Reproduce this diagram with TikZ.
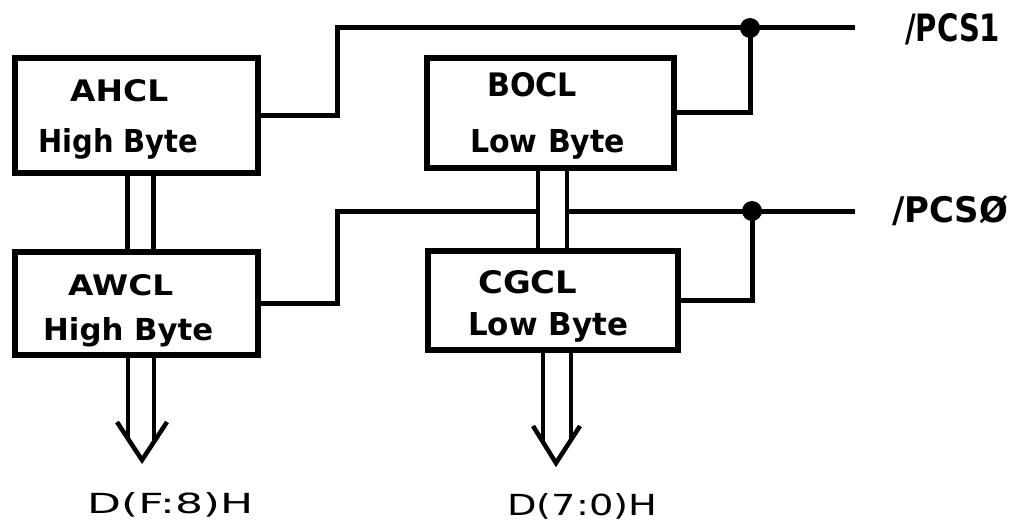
\documentclass[tikz,border=0pt]{standalone}
\usepackage{fontspec}
\usepackage{graphicx}
\setmainfont{DejaVu Sans}
\usetikzlibrary{calc}
\newcommand\fitt[3]{\resizebox{#1pt}{#2pt}{#3}}
\begin{document}
\begin{tikzpicture}[x=1pt,y=-1pt,
  box/.style={draw,line width=6pt,inner sep=0pt},
  wire/.style={line width=5pt,line join=miter},
  bus/.style={line width=4.5pt},
  lbl/.style={inner sep=0pt,font=\bfseries},
  dlbl/.style={inner sep=0pt},
  junction/.style={circle,fill,inner sep=0pt,minimum size=20pt}]
\useasboundingbox[fill=white] (0,0) rectangle (1016,524);

% boxes
\node[box,minimum width=243pt,minimum height=115pt] (ahcl) at (136.5,115.5) {};
\node[box,minimum width=243pt,minimum height=103pt] (awcl) at (136.5,303.5) {};
\node[box,minimum width=247pt,minimum height=110pt] (bocl) at (550.5,113) {};
\node[box,minimum width=250pt,minimum height=99pt]  (cgcl) at (553,300.5) {};

% box texts
\node[lbl,anchor=base west] (t1) at (70,102)  {\fitt{98}{22}{AHCL}};
\node[lbl,anchor=base west] (t2) at (38,152)  {\fitt{160}{24}{High Byte}};
\node[lbl,anchor=base west] (t3) at (68,295)  {\fitt{105}{21}{AWCL}};
\node[lbl,anchor=base west] (t4) at (43,340)  {\fitt{170}{23}{High Byte}};
\node[lbl,anchor=base west] (t5) at (487,97)  {\fitt{90}{24}{BOCL}};
\node[lbl,anchor=base west] (t6) at (470,152) {\fitt{155}{23}{Low Byte}};
\node[lbl,anchor=base west] (t7) at (478,293) {\fitt{99}{23}{CGCL}};
\node[lbl,anchor=base west] (t8) at (468,335) {\fitt{160}{23}{Low Byte}};

% output labels
\node[dlbl,anchor=base west] (dh) at (87,513)  {\fitt{166}{21}{D(F:8)H}};
\node[dlbl,anchor=base west] (dl) at (507,515) {\fitt{150}{22}{D(7:0)H}};
\node[lbl,anchor=base west] (pcs1) at (905,42)  {\fitt{95}{28}{/PCS1}};
\node[lbl,anchor=base west] (pcs0) at (892,222) {\fitt{116}{27}{/PCSØ}};

% coordinates
\coordinate (c1) at (337,28);
\coordinate (e1) at (855,28);
\coordinate (c2) at (337,211);
\coordinate (bl) at (538,211);
\coordinate (br) at (567,211);
\coordinate (e0) at (855,211);
\node[junction] (j1) at (750,28) {};
\node[junction] (j0) at (752,211) {};

% wires
\draw[wire] (ahcl.east) -| (c1) -- (e1);
\draw[wire] (j1.center) |- (bocl.east);
\draw[wire] (awcl.east) -| (c2) -- (bl);
\draw[wire] (br) -- (e0);
\draw[wire] (j0.center) |- (cgcl.east);

% bus AHCL -> AWCL
\draw[bus] ($(ahcl.south)+(-9,0)$) -- ($(awcl.north)+(-9,0)$);
\draw[bus] ($(ahcl.south)+(17,0)$) -- ($(awcl.north)+(17,0)$);
% bus BOCL -> CGCL
\draw[bus] ($(bocl.south)+(-12.5,0)$) -- ($(cgcl.north)+(-15,0)$);
\draw[bus] ($(bocl.south)+(16.5,0)$) -- ($(cgcl.north)+(14,0)$);

% output arrow AWCL
\coordinate (ah1) at (117,422);
\coordinate (at1) at (142,460);
\coordinate (ah2) at (167,422);
\draw[bus] ($(awcl.south)+(-8.5,0)$) -- (128,438);
\draw[bus] ($(awcl.south)+(17.5,0)$) -- (154,440);
\draw[bus,line join=miter] (ah1) -- (at1) -- (ah2);

% output arrow CGCL
\coordinate (ah3) at (533,426);
\coordinate (at3) at (556,463);
\coordinate (ah4) at (580,426);
\draw[bus] ($(cgcl.south)+(-10,0)$) -- (543,441);
\draw[bus] ($(cgcl.south)+(18,0)$) -- (571,440);
\draw[bus,line join=miter] (ah3) -- (at3) -- (ah4);
\end{tikzpicture}
\end{document}
